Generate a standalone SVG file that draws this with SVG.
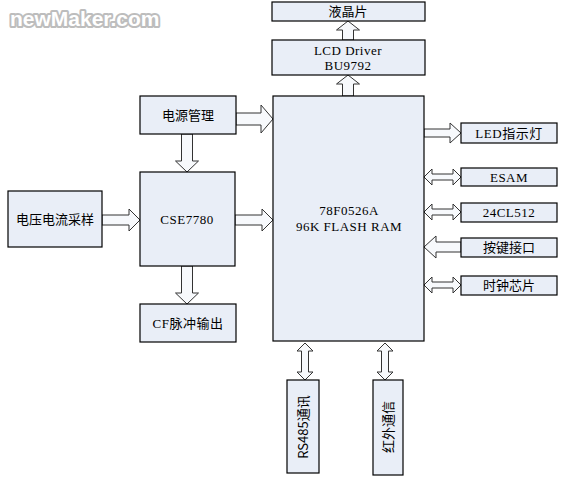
<svg xmlns="http://www.w3.org/2000/svg" width="566" height="479" viewBox="0 0 566 479">
<style>
.box{fill:#e9eef7;stroke:#000;stroke-width:1.2}
.arr{fill:#f7f9fc;stroke:#333;stroke-width:1}
.t{font-family:"Liberation Serif","Noto Sans CJK SC",serif;font-size:13px;fill:#000;text-anchor:middle;letter-spacing:0.5px}
.c{font-family:"Noto Sans CJK SC","Liberation Sans",sans-serif;font-size:13px;fill:#000;text-anchor:middle}
.wm{font-family:"Liberation Sans",Arial,sans-serif;font-weight:bold;font-size:21px;fill:#fff;stroke:#bdbdbd;stroke-width:4;paint-order:stroke;stroke-linejoin:round}
</style>
<rect width="566" height="479" fill="#fff"/>
<text class="wm" x="10" y="26">newMaker.com</text>
<g id="connectors">
<polygon class="arr" points="236,113 261,113 261,105 273,119 261,133 261,125 236,125"/>
<polygon class="arr" points="102,215 129,215 129,209 140,220 129,231 129,225 102,225"/>
<polygon class="arr" points="235,215 262,215 262,209 273,220 262,231 262,225 235,225"/>
<polygon class="arr" points="424,129 450,129 450,123 461,133 450,143 450,137 424,137"/>
<polygon class="arr" points="181.5,134 192.5,134 192.5,161 198.5,161 187,172 175.5,161 181.5,161"/>
<polygon class="arr" points="181.5,266 192.5,266 192.5,293 198.5,293 187,304 175.5,293 181.5,293"/>
<polygon class="arr" points="342.5,40 353.5,40 353.5,30 359.5,30 348,21 336.5,30 342.5,30"/>
<polygon class="arr" points="342.5,96 353.5,96 353.5,84 359.5,84 348,75 336.5,84 342.5,84"/>
<polygon class="arr" points="461,242 436,242 436,236 424,247 436,258 436,252 461,252"/>
<polygon class="arr" points="424,177 432,169 432,174 453,174 453,169 461,177 453,185 453,180 432,180 432,185"/>
<polygon class="arr" points="424,212 432,204 432,209 453,209 453,204 461,212 453,220 453,215 432,215 432,220"/>
<polygon class="arr" points="424,285 432,277 432,282 453,282 453,277 461,285 453,293 453,288 432,288 432,293"/>
<polygon class="arr" points="305,343 313,351 308.5,351 308.5,372 313,372 305,380 297,372 301.5,372 301.5,351 297,351"/>
<polygon class="arr" points="385,343 393,351 388.5,351 388.5,372 393,372 385,380 377,372 381.5,372 381.5,351 377,351"/>
</g>
<g id="lcd"><rect class="box" x="272" y="2" width="153" height="19"/><text class="c" x="348" y="16">液晶片</text></g>
<g id="lcddriver"><rect class="box" x="272" y="40" width="153" height="35"/><text class="t" x="348" y="55">LCD Driver</text><text class="t" x="348" y="70">BU9792</text></g>
<g id="mcu"><rect class="box" x="273" y="96" width="151" height="245"/><text class="t" x="349" y="215">78F0526A</text><text class="t" x="349" y="231">96K FLASH RAM</text></g>
<g id="power"><rect class="box" x="140" y="96" width="96" height="38"/><text class="c" x="188" y="120">电源管理</text></g>
<g id="cse"><rect class="box" x="140" y="172" width="95" height="94"/><text class="t" x="187" y="224">CSE7780</text></g>
<g id="sample"><rect class="box" x="8" y="191" width="94" height="56"/><text class="c" x="55" y="224">电压电流采样</text></g>
<g id="cf"><rect class="box" x="140" y="304" width="96" height="38"/><text class="t" x="188" y="328">CF脉冲输出</text></g>
<g id="led"><rect class="box" x="461" y="123" width="96" height="20"/><text class="t" x="509" y="138">LED指示灯</text></g>
<g id="esam"><rect class="box" x="461" y="168" width="96" height="18"/><text class="t" x="509" y="182">ESAM</text></g>
<g id="eeprom"><rect class="box" x="461" y="203" width="96" height="19"/><text class="t" x="509" y="217">24CL512</text></g>
<g id="keys"><rect class="box" x="461" y="238" width="96" height="19"/><text class="c" x="509" y="252">按键接口</text></g>
<g id="clock"><rect class="box" x="461" y="276" width="96" height="19"/><text class="c" x="509" y="290">时钟芯片</text></g>
<g id="rs485"><rect class="box" x="287" y="380" width="32" height="93"/><text class="c" transform="translate(308,427) rotate(-90)" x="0" y="0">RS485通讯</text></g>
<g id="ir"><rect class="box" x="373" y="380" width="30" height="95"/><text class="c" transform="translate(393,427) rotate(-90)" x="0" y="0">红外通信</text></g>
</svg>
